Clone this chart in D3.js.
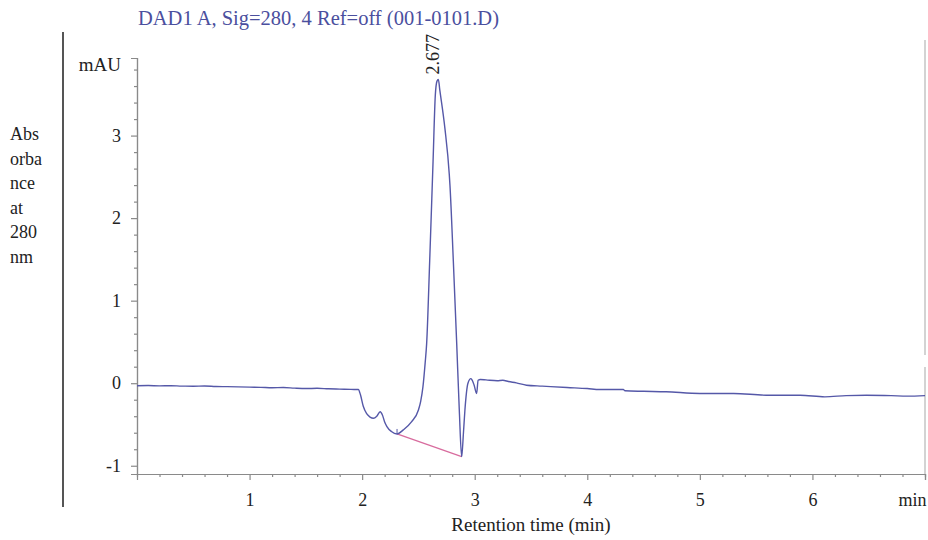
<!DOCTYPE html>
<html>
<head>
<meta charset="utf-8">
<script src="https://cdn.jsdelivr.net/npm/d3@7"></script>
<style>
  html, body { margin: 0; padding: 0; background: #fff; }
  svg { display: block; font-family: "Liberation Serif", "Times New Roman", serif; }
</style>
</head>
<body>
<svg id="chart" width="928" height="540"></svg>
<script>
// ---- data ----
const times = [0.00,0.10,0.20,0.30,0.40,0.50,0.60,0.70,0.80,0.90,1.00,1.10,1.20,1.30,1.40,1.50,1.60,1.70,1.80,1.90,1.966,
  1.985,2.01,2.04,2.07,2.10,2.13,2.16,2.18,2.20,2.22,2.26,2.31,2.366,2.44,2.50,2.52,2.54,2.56,2.573,2.60,2.63,2.65,2.665,2.677,
  2.69,2.735,2.774,2.78,2.81,2.84,2.863,2.884,2.90,2.913,2.94,2.966,2.98,2.995,3.017,3.03,3.05,3.10,3.20,3.25,3.30,3.37,3.46,
  3.60,3.82,4.00,4.11,4.32,4.335,4.50,4.70,5.00,5.30,5.59,5.89,6.11,6.30,6.48,6.70,6.84,7.00];
const absorbance = [-0.030,-0.028,-0.032,-0.030,-0.035,-0.036,-0.034,-0.040,-0.042,-0.045,-0.048,-0.050,-0.055,-0.052,-0.060,-0.065,-0.062,-0.068,-0.072,-0.075,-0.076,
  -0.14,-0.28,-0.37,-0.41,-0.425,-0.40,-0.345,-0.385,-0.47,-0.525,-0.585,-0.615,-0.565,-0.465,-0.325,-0.22,-0.045,0.25,0.48,1.48,2.69,3.49,3.66,3.68,
  3.55,3.09,2.53,2.40,1.48,0.48,-0.325,-0.89,-0.60,-0.325,0.0,0.056,0.03,-0.025,-0.125,0.036,0.045,0.040,0.030,0.035,0.020,0.004,-0.024,
  -0.035,-0.052,-0.065,-0.076,-0.076,-0.092,-0.098,-0.104,-0.124,-0.124,-0.145,-0.145,-0.165,-0.150,-0.145,-0.150,-0.157,-0.150];
const peakTime = [2.677];
const peakHeight = [3.68];
const peakLabel = ["2.677"];
const baselineTimes = [2.31, 2.884];
const baselineValues = [-0.615, -0.89];
const xMajorTicks = [1, 2, 3, 4, 5, 6, 7];
const xTickLabels = ["1", "2", "3", "4", "5", "6", "min"];
const yMajorTicks = [-1, 0, 1, 2, 3];
const yTickLabels = ["-1", "0", "1", "2", "3"];
const yLabelLines = ["Abs", "orba", "nce", "at", "280", "nm"];
const titleText = "DAD1 A, Sig=280, 4 Ref=off (001-0101.D)";
const xTitle = "Retention time (min)";
const yUnit = "mAU";

// ---- layout ----
const svg = d3.select("#chart");
const x = d3.scaleLinear().domain([0, 7]).range([137, 925]);
const y = d3.scaleLinear().domain([-1.1, 3.94]).range([474, 58]);
const axisColor = "#8a8a8a";
const lineColor = "#5558a8";

const xMinor = d3.range(0.2, 7.0001, 0.2).filter(v => Math.abs(v - Math.round(v)) > 1e-6);
const yMinor = d3.range(-1, 3.8001, 0.2).filter(v => Math.abs(v - Math.round(v)) > 1e-6);

// left dark rule
svg.append("line").attr("x1", 63).attr("x2", 63).attr("y1", 32).attr("y2", 507)
  .attr("stroke", "#555").attr("stroke-width", 2);

// right light frame
svg.append("line").attr("x1", x(7)).attr("x2", x(7)).attr("y1", 40).attr("y2", 355)
  .attr("stroke", "#c4c4c4").attr("stroke-width", 1.5);
svg.append("line").attr("x1", x(7)).attr("x2", x(7)).attr("y1", 367).attr("y2", y(-1.1))
  .attr("stroke", "#c4c4c4").attr("stroke-width", 1.5);

// title
svg.append("text").attr("x", 138).attr("y", 25).attr("fill", "#4b4f9e")
  .attr("font-size", 20.5).text(titleText);

// y label lines
svg.append("g").selectAll("text").data(yLabelLines).join("text")
  .attr("x", 10).attr("y", (d, i) => 140 + i * 24.5)
  .attr("font-size", 18).attr("fill", "#222").text(d => d);

// unit
svg.append("text").attr("x", 121).attr("y", 71).attr("text-anchor", "end")
  .attr("font-size", 19).attr("fill", "#222").text(yUnit);

// axes
function styleAxis(g) {
  g.select(".domain").attr("stroke", axisColor).attr("stroke-width", 1.2);
  g.selectAll(".tick line").attr("stroke", axisColor).attr("stroke-width", 1.2);
  g.selectAll(".tick text").attr("fill", "#222").attr("font-size", 18)
    .attr("font-family", "Liberation Serif, Times New Roman, serif");
}

const yAxisMinor = svg.append("g").attr("transform", `translate(${x(0)},0)`)
  .call(d3.axisLeft(y).tickValues(yMinor).tickSize(3).tickFormat(""));
styleAxis(yAxisMinor);
const yAxis = svg.append("g").attr("transform", `translate(${x(0)},0)`)
  .call(d3.axisLeft(y).tickValues(yMajorTicks).tickSize(6).tickPadding(10)
    .tickFormat((d, i) => yTickLabels[i]));
styleAxis(yAxis);

const xAxisMinor = svg.append("g").attr("transform", `translate(0,${y(-1.1)})`)
  .call(d3.axisBottom(x).tickValues(xMinor).tickSize(3).tickFormat(""));
styleAxis(xAxisMinor);
const xAxis = svg.append("g").attr("transform", `translate(0,${y(-1.1)})`)
  .call(d3.axisBottom(x).tickValues(xMajorTicks).tickSize(6).tickPadding(13)
    .tickFormat((d, i) => xTickLabels[i]));
styleAxis(xAxis);
xAxis.selectAll(".tick text").filter(d => d === 7).attr("text-anchor", "end").attr("x", 1);

// x title
svg.append("text").attr("x", (x(0) + x(7)) / 2).attr("y", 531).attr("text-anchor", "middle")
  .attr("font-size", 19).attr("fill", "#222").text(xTitle);

// baseline of integrated peak
svg.append("line")
  .attr("x1", x(baselineTimes[0])).attr("y1", y(baselineValues[0]))
  .attr("x2", x(baselineTimes[1])).attr("y2", y(baselineValues[1]))
  .attr("stroke", "#d86c9e").attr("stroke-width", 1.3);

// chromatogram trace
const pts = times.map((t, i) => [t, absorbance[i]]);
const line = d3.line().x(d => x(d[0])).y(d => y(d[1])).curve(d3.curveMonotoneX);
svg.append("path").datum(pts).attr("d", line).attr("fill", "none")
  .attr("stroke", lineColor).attr("stroke-width", 1.4).attr("stroke-linejoin", "round");

// peak start/end markers
svg.append("g").selectAll("line").data(baselineTimes).join("line")
  .attr("x1", d => x(d)).attr("x2", d => x(d))
  .attr("y1", (d, i) => y(baselineValues[i]) - 5).attr("y2", (d, i) => y(baselineValues[i]))
  .attr("stroke", lineColor).attr("stroke-width", 1);

// peak label
svg.append("g").selectAll("text").data(peakTime).join("text")
  .attr("transform", (d, i) => `translate(${x(d) + 1},${y(peakHeight[i]) - 5}) rotate(-90)`)
  .attr("font-size", 18).attr("fill", "#222").text((d, i) => peakLabel[i]);
</script>
</body>
</html>
